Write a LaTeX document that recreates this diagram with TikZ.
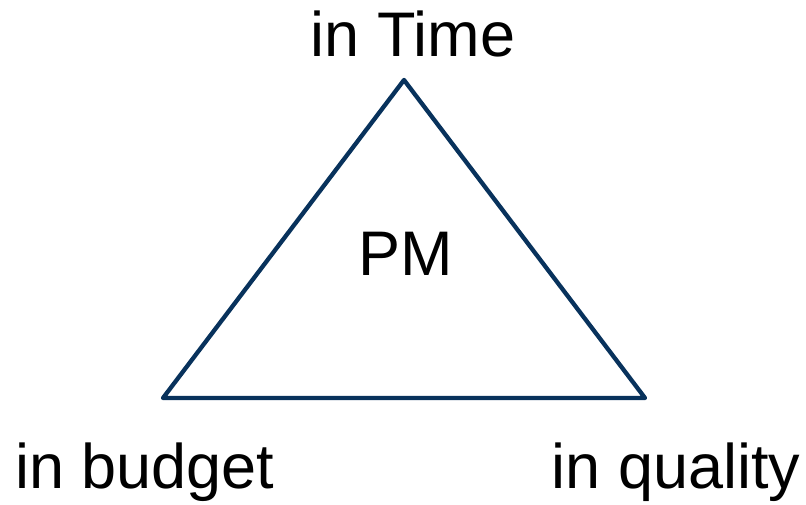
\documentclass[tikz,border=0pt]{standalone}
\usepackage{fontspec}
\setmainfont{Liberation Sans}
\definecolor{navy}{RGB}{8,50,92}
\begin{document}
\begin{tikzpicture}[x=1pt,y=-1pt,
  lbl/.style={anchor=base,inner sep=0pt,font=\fontsize{63}{75}\selectfont},
  edge/.style={draw=navy,line width=4.3pt,line join=round}]
\useasboundingbox (0,0) rectangle (806,504);
\coordinate (top) at (404,80);
\coordinate (bl) at (163,398);
\coordinate (br) at (645,398);
\draw[edge] (top) -- (bl) -- (br) -- cycle;
\node[lbl] (time) at (413,56) {in Time};
\node[lbl] (pm) at (406,275) {PM};
\node[lbl] (budget) at (145,488) {in budget};
\node[lbl] (quality) at (676,488) {in quality};
\end{tikzpicture}
\end{document}
